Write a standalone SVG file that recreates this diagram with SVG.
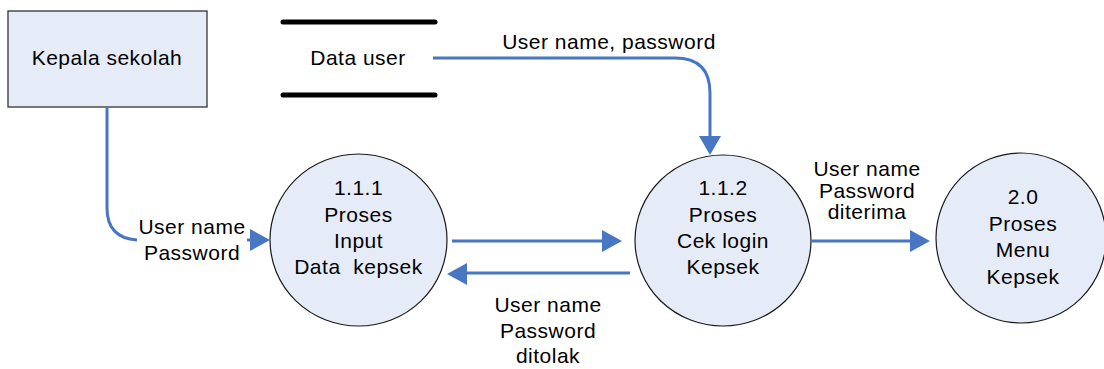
<svg xmlns="http://www.w3.org/2000/svg" width="1104" height="369" viewBox="0 0 1104 369">
  <style>
    .bg { fill: #ffffff; }
    .entity { fill: #e6ecf7; stroke: #333333; stroke-width: 1.3; }
    .proc { fill: #e6ecf7; stroke: #1a1a1a; stroke-width: 1.2; }
    .store { stroke: #000000; stroke-width: 5; stroke-linecap: round; }
    .flow { fill: none; stroke: #4776c2; stroke-width: 3; }
    .head { fill: #4776c2; }
    text { font-family: "Liberation Sans", Arial, sans-serif; font-size: 21px; fill: #000000; text-anchor: middle; letter-spacing: 0.5px; }
  </style>
  <rect class="bg" x="0" y="0" width="1104" height="369"/>

  <!-- external entity -->
  <g id="kepala-sekolah">
    <rect class="entity" x="8" y="11" width="199" height="96"/>
    <text x="107" y="65">Kepala sekolah</text>
  </g>

  <!-- data store -->
  <g id="data-user">
    <line class="store" x1="283" y1="22" x2="435" y2="22"/>
    <line class="store" x1="283" y1="95" x2="435" y2="95"/>
    <text x="358" y="65">Data user</text>
  </g>

  <!-- processes -->
  <g id="proses-1-1-1">
    <ellipse class="proc" cx="358.5" cy="240" rx="88.5" ry="86"/>
    <text x="358.5" y="195">1.1.1</text>
    <text x="358.5" y="222">Proses</text>
    <text x="358.5" y="248">Input</text>
    <text x="358.5" y="274" xml:space="preserve">Data  kepsek</text>
  </g>

  <g id="proses-1-1-2">
    <ellipse class="proc" cx="723" cy="240.5" rx="88" ry="85.5"/>
    <text x="723" y="195">1.1.2</text>
    <text x="723" y="222">Proses</text>
    <text x="723" y="248">Cek login</text>
    <text x="723" y="274">Kepsek</text>
  </g>

  <g id="proses-2-0">
    <ellipse class="proc" cx="1021" cy="238" rx="85" ry="85"/>
    <text x="1023" y="204">2.0</text>
    <text x="1023" y="231">Proses</text>
    <text x="1023" y="257">Menu</text>
    <text x="1023" y="284">Kepsek</text>
  </g>

  <!-- data flows -->
  <g id="connectors">
    <!-- Kepala sekolah -> 1.1.1 -->
    <path class="flow" d="M107,107 V208 Q107,238 137,240"/>
    <line class="flow" x1="247" y1="240" x2="252" y2="240"/>
    <polygon class="head" points="270,240 250,229 250,251"/>
    <text x="192" y="234">User name</text>
    <text x="192" y="260">Password</text>

    <!-- Data user -> 1.1.2 -->
    <path class="flow" d="M433,58 H675 Q710,58 710,93 V140"/>
    <polygon class="head" points="710,155 699,136 721,136"/>
    <text x="609" y="49">User name, password</text>

    <!-- 1.1.1 -> 1.1.2 -->
    <line class="flow" x1="452" y1="241" x2="605" y2="241"/>
    <polygon class="head" points="622,241 602,230 602,252"/>

    <!-- 1.1.2 -> 1.1.1 (rejected) -->
    <line class="flow" x1="630" y1="273" x2="464" y2="273"/>
    <polygon class="head" points="447,274 467,263 467,285"/>
    <text x="548" y="312">User name</text>
    <text x="548" y="338">Password</text>
    <text x="548" y="363">ditolak</text>

    <!-- 1.1.2 -> 2.0 -->
    <line class="flow" x1="811" y1="241" x2="913" y2="241"/>
    <polygon class="head" points="930,241 910,230 910,252"/>
    <text x="867" y="176">User name</text>
    <text x="867" y="198">Password</text>
    <text x="867" y="219">diterima</text>
  </g>
</svg>
